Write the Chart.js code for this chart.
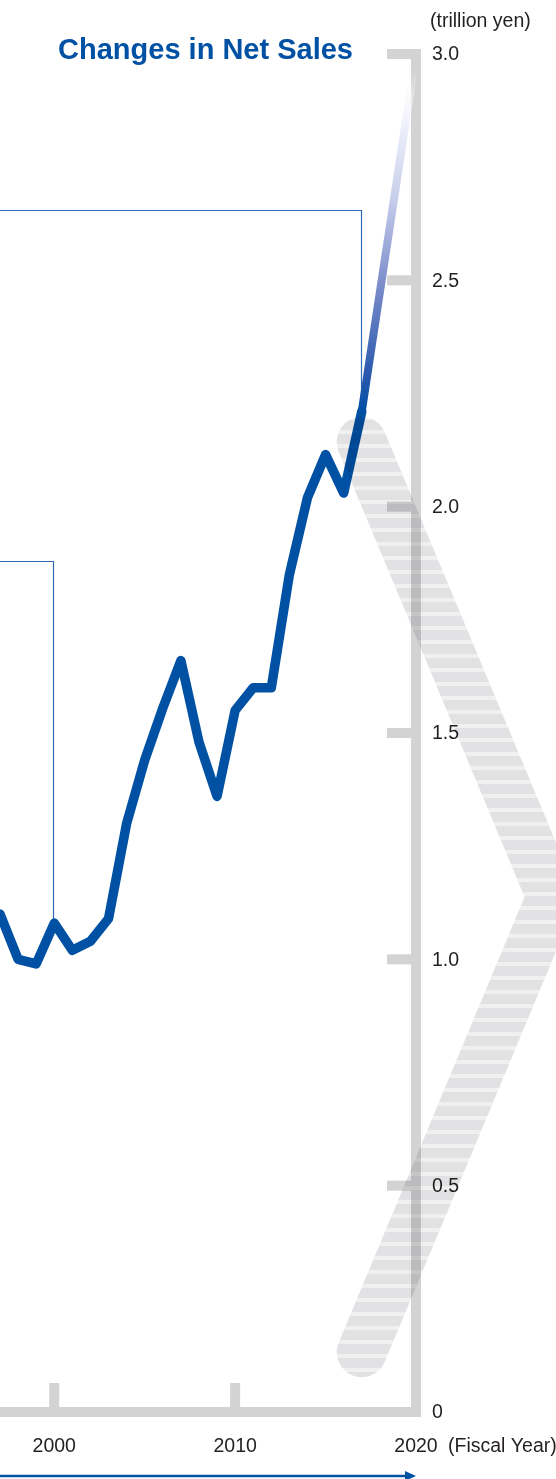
<!DOCTYPE html>
<html lang="en">
<head>
  <meta charset="UTF-8">
  <title>Changes in Net Sales</title>
  <script src="https://cdn.jsdelivr.net/npm/chart.js"></script>
  <style>
    * { margin: 0; padding: 0; box-sizing: border-box; }
    body { background: #fff; width: 556px; height: 1479px; overflow: hidden; }
    .wrap { position: relative; width: 556px; height: 1479px; }
  </style>
</head>
<body>
  <div class="wrap"><canvas id="chart"></canvas></div>

  <script>
    // net sales, trillion yen, by fiscal year
    const years = [1997, 1998, 1999, 2000, 2001, 2002, 2003, 2004, 2005, 2006, 2007,
                   2008, 2009, 2010, 2011, 2012, 2013, 2014, 2015, 2016, 2017];
    const netSales = [1.10, 1.00, 0.99, 1.08, 1.02, 1.04, 1.09, 1.30, 1.44, 1.555, 1.66,
                      1.48, 1.36, 1.55, 1.60, 1.60, 1.85, 2.02, 2.115, 2.03, 2.21];
    // faded outlook line
    const outlookYears = [2017, 2020];
    const outlookValues = [2.21, 3.0];

    const yTicks = [0, 0.5, 1, 1.5, 2, 2.5, 3];
    const yTickLabels = ['0', '0.5', '1.0', '1.5', '2.0', '2.5', '3.0'];
    const xTicks = [2000, 2010, 2020];
    const xTickLabels = ['2000', '2010', '2020'];

    // thin call-out brackets
    const bracketYears = [2000, 2017];
    const bracketLevels = [1.88, 2.655];

    const blue = '#0050a4';
    const axisGray = '#d4d3d3';
    const textColor = '#231f20';
    const smallFont = '19.5px "Liberation Sans", Arial, sans-serif';

    function valueAt(year) {
      return netSales[years.indexOf(year)];
    }

    const frame = {
      id: 'frame',
      beforeDatasetsDraw(chart) {
        const { ctx, scales: { x, y } } = chart;
        const ax = x.getPixelForValue(2020);
        const y0 = y.getPixelForValue(0);
        const yTop = y.getPixelForValue(3);
        ctx.save();
        ctx.fillStyle = axisGray;
        ctx.fillRect(ax - 5, yTop - 5, 10, y0 - yTop + 10);
        ctx.fillRect(0, y0 - 5, ax + 5, 10);
        yTicks.forEach(v => {
          if (v === 0) return;
          const py = y.getPixelForValue(v);
          ctx.fillRect(ax - 29, py - 5, 29, 10);
        });
        xTicks.forEach(v => {
          if (v === 2020) return;
          const px = x.getPixelForValue(v);
          ctx.fillRect(px - 5, y0 - 29, 10, 29);
        });

        // brackets
        ctx.strokeStyle = '#2f6cb5';
        ctx.lineWidth = 1.2;
        bracketYears.forEach((yr, i) => {
          const px = Math.round(x.getPixelForValue(yr)) - 0.5;
          const py = Math.round(y.getPixelForValue(bracketLevels[i])) + 0.5;
          ctx.beginPath();
          ctx.moveTo(0, py);
          ctx.lineTo(px, py);
          ctx.lineTo(px, y.getPixelForValue(valueAt(yr)));
          ctx.stroke();
        });
        ctx.restore();
      },
      afterDatasetsDraw(chart) {
        const { ctx, scales: { x, y } } = chart;
        const ax = x.getPixelForValue(2020);
        ctx.save();
        ctx.fillStyle = blue;
        ctx.font = 'bold 29px "Liberation Sans", Arial, sans-serif';
        ctx.textAlign = 'right';
        ctx.textBaseline = 'alphabetic';
        ctx.fillText('Changes in Net Sales', 353, 59);

        ctx.fillStyle = textColor;
        ctx.font = smallFont;
        ctx.textAlign = 'left';
        ctx.textBaseline = 'middle';
        ctx.fillText('(trillion yen)', 430, 22);
        yTicks.forEach((v, i) => {
          ctx.fillText(yTickLabels[i], ax + 16, y.getPixelForValue(v) + 1);
        });
        ctx.textAlign = 'center';
        xTicks.forEach((v, i) => {
          ctx.fillText(xTickLabels[i], x.getPixelForValue(v), 1447);
        });
        ctx.textAlign = 'left';
        ctx.fillText('(Fiscal Year)', ax + 32, 1447);

        // time arrow
        ctx.strokeStyle = blue;
        ctx.fillStyle = blue;
        ctx.lineWidth = 2.5;
        ctx.beginPath();
        ctx.moveTo(0, 1476);
        ctx.lineTo(ax - 8, 1476);
        ctx.stroke();
        ctx.beginPath();
        ctx.moveTo(ax, 1476);
        ctx.lineTo(ax - 11, 1471);
        ctx.lineTo(ax - 11, 1481);
        ctx.closePath();
        ctx.fill();
        ctx.restore();
      },
      afterDraw(chart) {
        // striped chevron laid over everything
        const { ctx, scales: { x, y } } = chart;
        const pat = document.createElement('canvas');
        pat.width = 4;
        pat.height = 14;
        const pc = pat.getContext('2d');
        pc.fillStyle = '#e2e2e4';
        pc.fillRect(0, 0, 4, 14);
        pc.fillStyle = '#f0f0f0';
        pc.fillRect(0, 10, 4, 4);
        ctx.save();
        ctx.globalCompositeOperation = 'multiply';
        ctx.strokeStyle = ctx.createPattern(pat, 'repeat');
        ctx.lineWidth = 50;
        ctx.lineCap = 'round';
        ctx.lineJoin = 'miter';
        ctx.miterLimit = 10;
        ctx.beginPath();
        ctx.moveTo(x.getPixelForValue(2017), y.getPixelForValue(2.143));
        ctx.lineTo(x.getPixelForValue(2027.5), y.getPixelForValue(1.138));
        ctx.lineTo(x.getPixelForValue(2017), y.getPixelForValue(0.132));
        ctx.stroke();
        ctx.restore();
      }
    };

    function outlookColor(context) {
      const chart = context.chart;
      if (!chart.chartArea) return blue;
      const ys = chart.scales.y;
      const g = chart.ctx.createLinearGradient(0, ys.getPixelForValue(outlookValues[0]), 0, ys.getPixelForValue(outlookValues[1]));
      g.addColorStop(0, blue);
      g.addColorStop(0.1, '#2a58ad');
      g.addColorStop(0.37, '#8090cc');
      g.addColorStop(0.6, '#c8cfeb');
      g.addColorStop(0.8, '#eef0fa');
      g.addColorStop(0.95, 'rgba(255,255,255,0)');
      return g;
    }

    new Chart(document.getElementById('chart'), {
      type: 'line',
      data: {
        datasets: [{
          label: 'Net Sales',
          data: years.map((yr, i) => ({ x: yr, y: netSales[i] })),
          borderColor: blue,
          borderWidth: 9.5,
          borderJoinStyle: 'round',
          borderCapStyle: 'round',
          pointRadius: 0,
          tension: 0
        }, {
          label: 'Outlook',
          data: outlookYears.map((yr, i) => ({ x: yr, y: outlookValues[i] })),
          borderColor: outlookColor,
          borderWidth: 8,
          borderCapStyle: 'butt',
          pointRadius: 0,
          tension: 0
        }]
      },
      options: {
        responsive: true,
        maintainAspectRatio: false,
        animation: false,
        layout: { padding: { left: 0, right: 140, top: 54, bottom: 67 } },
        scales: {
          x: { type: 'linear', min: 1997, max: 2020, display: false },
          y: { min: 0, max: 3, display: false }
        },
        plugins: {
          legend: { display: false },
          tooltip: { enabled: false }
        }
      },
      plugins: [frame]
    });
  </script>
</body>
</html>
